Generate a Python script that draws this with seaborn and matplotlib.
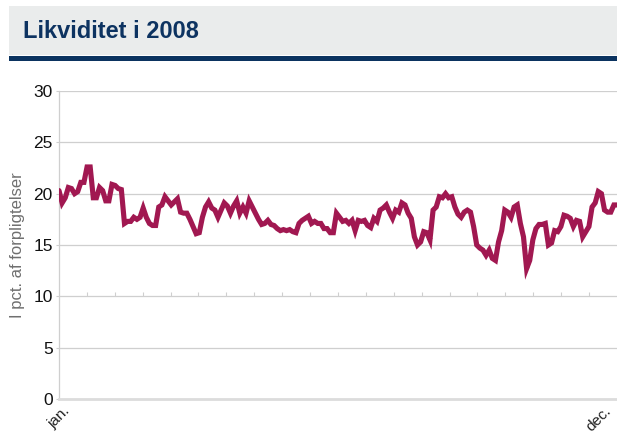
import numpy as np
import pandas as pd
import matplotlib
matplotlib.use("Agg")
import matplotlib.pyplot as plt
import seaborn as sns
from matplotlib.patches import Rectangle

likviditet = [
    20.3, 19.1, 19.6, 20.6, 20.5, 20.0, 20.2, 21.1, 21.1, 22.6, 22.6, 19.6, 19.6, 20.6, 20.3,
    19.3, 19.3, 20.9, 20.8, 20.5, 20.4, 17.1, 17.3, 17.3, 17.7, 17.5, 17.7, 18.6, 17.7, 17.1,
    16.9, 16.9, 18.7, 18.9, 19.7, 19.3, 18.9, 19.2, 19.5, 18.2, 18.1, 18.1, 17.5, 16.8, 16.1,
    16.2, 17.7, 18.7, 19.2, 18.6, 18.4, 17.7, 18.4, 19.1, 18.8, 18.1, 18.8, 19.3, 18.1, 18.7,
    18.1, 19.3, 18.7, 18.1, 17.5, 17.0, 17.1, 17.4, 17.0, 16.9, 16.6, 16.4, 16.5, 16.4, 16.5,
    16.3, 16.2, 17.1, 17.4, 17.6, 17.8, 17.1, 17.3, 17.1, 17.1,
    16.6, 16.6, 16.2, 16.2, 18.1, 17.7, 17.3, 17.4, 17.1, 17.4, 16.4, 17.4, 17.3, 17.4, 16.9,
    16.7, 17.6, 17.3, 18.4, 18.6, 18.9, 18.2, 17.6, 18.4, 18.2, 19.1, 18.9, 18.1, 17.6, 15.8,
    15.0, 15.3, 16.3, 16.2, 15.5, 18.4, 18.7, 19.7, 19.6, 20.0, 19.6, 19.7, 18.7,
    18.0, 17.7, 18.2, 18.4, 18.2, 16.8, 15.0, 14.7, 14.5, 14.0, 14.5, 13.7, 13.5, 15.3, 16.4,
    18.4, 18.2, 17.7, 18.7, 18.9, 17.1, 15.8, 12.7, 13.5, 15.5, 16.6, 17.0, 17.0, 17.1, 15.0,
    15.2, 16.4, 16.3, 16.8, 17.9, 17.8, 17.6, 16.8, 17.4, 17.3, 15.8, 16.3, 16.8, 18.7, 19.1,
    20.2, 20.0, 18.4, 18.2, 18.2, 18.9, 18.9,
]
x_labels = ["jan.", "dec."]
y_ticks = [0, 5, 10, 15, 20, 25, 30]

df = pd.DataFrame({"obs": np.arange(len(likviditet)), "pct": likviditet})
n = len(df) - 1

sns.set_style("white")
plt.rcParams["font.family"] = ["Liberation Sans", "DejaVu Sans"]

fig = plt.figure(figsize=(6.17, 4.34), dpi=100)
ax = fig.add_axes([59 / 617, 1 - 399 / 434, 1 - 59 / 617, (399 - 91) / 434])

# title band
fig.patches.append(Rectangle((9 / 617, 1 - 55 / 434), 1, 49 / 434, transform=fig.transFigure,
                             facecolor="#eaecec", edgecolor="none", zorder=0))
fig.patches.append(Rectangle((9 / 617, 1 - 61 / 434), 1, 5.5 / 434, transform=fig.transFigure,
                             facecolor="#0b3360", edgecolor="none", zorder=1))
fig.text(23 / 617, 1 - 31 / 434, "Likviditet i 2008", fontsize=17, fontweight="bold",
         color="#0d3361", va="center", ha="left")

sns.lineplot(data=df, x="obs", y="pct", ax=ax, color="#a11851", linewidth=3.7,
             solid_joinstyle="miter", zorder=5)

ax.set_xlim(0, n)
ax.set_ylim(0, 30)
ax.set_yticks(y_ticks)
ax.yaxis.grid(True, color="#cfcfcf", linewidth=0.9)
ax.set_axisbelow(True)
ax.tick_params(axis="y", length=2.5, width=0.8, color="#cfcfcf", labelsize=12.5,
               labelcolor="#111111", pad=2, left=True)
ax.set_xticks([])
ax.set_xlabel("")
ax.set_ylabel("I pct. af forpligtelser", fontsize=12, color="#6f6f6f", labelpad=6)

# month labels at the two ends, rotated like the original
for xpos, lbl, dx in [(0, x_labels[0], 4), (n, x_labels[1], -13)]:
    ax.annotate(lbl, xy=(xpos, 0), xycoords=("data", "axes fraction"),
                xytext=(dx, -5), textcoords="offset pixels",
                rotation=45, rotation_mode="anchor", ha="right", va="top",
                fontsize=11, color="#222222", annotation_clip=False)

for side in ["top", "right"]:
    ax.spines[side].set_visible(False)
ax.spines["left"].set_color("#cfcfcf")
ax.spines["left"].set_linewidth(0.9)
ax.spines["bottom"].set_color("#dcdcdc")
ax.spines["bottom"].set_linewidth(2)

# small ticks sitting on the 10-line
sec = ax.secondary_xaxis(10 / 30)
sec.set_xticks(np.linspace(0, n, 21)[1:-1])
sec.set_xticklabels([])
sec.tick_params(direction="in", length=3, width=0.8, color="#cfcfcf")
sec.spines["bottom"].set_visible(False)
sec.spines["top"].set_visible(False)

fig.savefig("out.png", dpi=100, facecolor="white")
